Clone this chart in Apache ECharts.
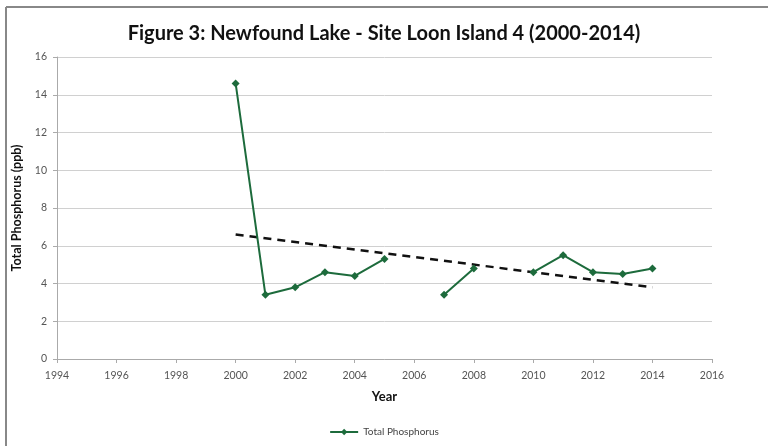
<!DOCTYPE html>
<html><head><meta charset="utf-8">
<script src="https://cdn.jsdelivr.net/npm/echarts@6/dist/echarts.min.js"></script>
<style>html,body{margin:0;padding:0;background:#fff}#c{width:768px;height:446px}</style>
</head><body><div id="c"></div>
<script>
var years = [2000, 2001, 2002, 2003, 2004, 2005, 2006, 2007, 2008, 2009, 2010, 2011, 2012, 2013, 2014];
var phosphorus = [14.6, 3.4, 3.8, 4.6, 4.4, 5.3, null, 3.4, 4.8, null, 4.6, 5.5, 4.6, 4.5, 4.8];
var trendYears = [2000, 2014];
var trendValues = [6.6, 3.8];
var xTicks = [1994, 2016, 2];
var yTicks = [0, 16, 2];

var chart = echarts.init(document.getElementById('c'));
var font = 'Lato, "Open Sans", sans-serif';
chart.setOption({
  animation: false,
  textStyle: {fontFamily: font},
  title: {text: 'Figure 3: Newfound Lake - Site Loon Island 4 (2000-2014)', left: 'center', top: 19,
    textStyle: {fontFamily: font, fontSize: 20, fontWeight: 'bold', color: '#111'}},
  graphic: [
    {type: 'line', shape: {x1: 6, y1: 7, x2: 768, y2: 7}, style: {stroke: '#888', lineWidth: 2}, silent: true},
    {type: 'line', shape: {x1: 6, y1: 7, x2: 6, y2: 446}, style: {stroke: '#888', lineWidth: 2}, silent: true}
  ],
  grid: {left: 57, right: 56, top: 57, bottom: 87},
  legend: {bottom: 4, left: 'center', itemWidth: 28, itemHeight: 8,
    textStyle: {fontFamily: font, fontSize: 10, color: '#444'},
    data: [{name: 'Total Phosphorus'}]},
  xAxis: {type: 'value', min: xTicks[0], max: xTicks[1], interval: xTicks[2],
    name: 'Year', nameLocation: 'middle', nameGap: 31,
    nameTextStyle: {fontFamily: font, fontSize: 13, fontWeight: 'bold', color: '#111'},
    axisLine: {lineStyle: {color: '#aaa'}}, axisTick: {show: true, length: 4, lineStyle: {color: '#aaa'}},
    axisLabel: {color: '#555', fontSize: 10.5, margin: 11, formatter: function(v){return String(v);}},
    splitLine: {show: false}},
  yAxis: {type: 'value', min: yTicks[0], max: yTicks[1], interval: yTicks[2],
    name: 'Total Phosphorus (ppb)', nameLocation: 'middle', nameGap: 28,
    nameTextStyle: {fontFamily: font, fontSize: 12.5, fontWeight: 'bold', color: '#111'},
    axisLine: {show: true, lineStyle: {color: '#aaa'}}, axisTick: {show: true, length: 4, lineStyle: {color: '#aaa'}},
    axisLabel: {color: '#555', fontSize: 10.5, margin: 10},
    splitLine: {lineStyle: {color: '#d0d0d0', width: 1}}},
  series: [
    {name: 'Total Phosphorus', type: 'line', data: years.map(function(y, i){return [y, phosphorus[i]];}),
      connectNulls: false, symbol: 'diamond', symbolSize: 8,
      itemStyle: {color: '#1d6b3c'}, lineStyle: {color: '#1d6b3c', width: 2}, z: 3},
    {name: 'Trend', type: 'line', data: trendYears.map(function(y, i){return [y, trendValues[i]];}),
      symbol: 'none', lineStyle: {color: '#111', width: 2.5, type: [8, 6]}, z: 2}
  ]
});
</script></body></html>
